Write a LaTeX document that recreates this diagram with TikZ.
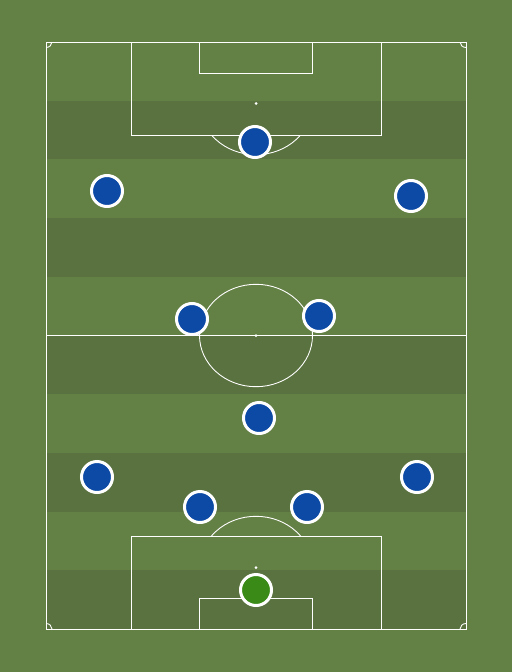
\documentclass[tikz,border=0pt]{standalone}
\usetikzlibrary{shadows}
\definecolor{pitchlight}{RGB}{99,128,69}
\definecolor{pitchdark}{RGB}{89,114,63}
\definecolor{playerblue}{RGB}{12,74,165}
\definecolor{keepergreen}{RGB}{58,138,24}
\tikzset{
  pline/.style={draw=white, line width=0.9pt},
  player/.style={circle, minimum size=31pt, inner sep=0pt, draw=white, line width=3pt,
     drop shadow={shadow xshift=0.8pt, shadow yshift=-1pt, opacity=0.25}},
  outfield/.style={player, fill=playerblue},
  keeper/.style={player, fill=keepergreen},
  spot/.style={circle, fill=white, inner sep=0pt, minimum size=3pt}
}
\begin{document}
\begin{tikzpicture}[x=1pt,y=-1pt]
\fill[pitchlight] (0,0) rectangle (512,672);
\useasboundingbox (0,0) rectangle (512,672);
% stripes
\foreach \k in {1,3,5,7,9}{
  \fill[pitchdark] (46,{42+58.7*\k}) rectangle (466,{42+58.7*(\k+1)});
}
% outline
\draw[pline] (46,42) rectangle (466,629);
% halfway line
\draw[pline] (46,335.5) -- (466,335.5);
% centre circle
\draw[pline] (256,335.5) ellipse [x radius=56.5, y radius=51.2];
\node[spot] (cspot) at (256,335.5) {};
% top penalty box and goal area
\draw[pline] (131,42) -- (131,135) -- (381,135) -- (381,42);
\draw[pline] (199,42) -- (199,73) -- (312,73) -- (312,42);
\node[spot] (tspot) at (256,103.5) {};
\begin{scope}
  \clip (100,135) rectangle (412,200);
  \draw[pline] (256,103.5) ellipse [x radius=56.5, y radius=51.2];
\end{scope}
% bottom penalty box and goal area
\draw[pline] (131,629) -- (131,536) -- (381,536) -- (381,629);
\draw[pline] (199,629) -- (199,598) -- (312,598) -- (312,629);
\node[spot] (bspot) at (256,567.5) {};
\begin{scope}
  \clip (100,470) rectangle (412,536);
  \draw[pline] (256,567.5) ellipse [x radius=56.5, y radius=51.2];
\end{scope}
% corner arcs
\begin{scope}
  \clip (46,42) rectangle (466,629);
  \draw[pline] (46,42) ellipse [x radius=6, y radius=5.5];
  \draw[pline] (466,42) ellipse [x radius=6, y radius=5.5];
  \draw[pline] (46,629) ellipse [x radius=6, y radius=5.5];
  \draw[pline] (466,629) ellipse [x radius=6, y radius=5.5];
\end{scope}
% players
\node[outfield] (p1) at (255,142) {};
\node[outfield] (p2) at (107,191) {};
\node[outfield] (p3) at (411,196) {};
\node[outfield] (p4) at (192,319) {};
\node[outfield] (p5) at (319,316) {};
\node[outfield] (p6) at (259,418) {};
\node[outfield] (p7) at (97,477) {};
\node[outfield] (p8) at (417,477) {};
\node[outfield] (p9) at (200,507) {};
\node[outfield] (p10) at (307,507) {};
\node[keeper] (gk) at (256,590) {};
\end{tikzpicture}
\end{document}
